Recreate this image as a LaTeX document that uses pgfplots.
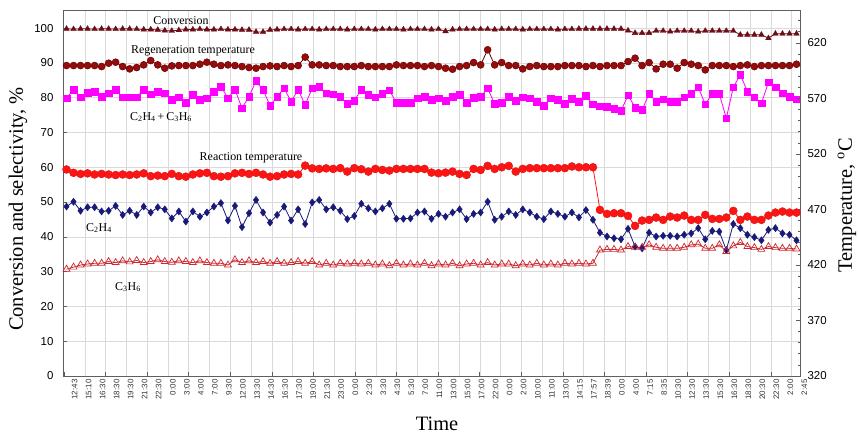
\documentclass[border=0pt]{standalone}
\usepackage{fontspec}
\setmainfont{Liberation Serif}
\setsansfont{Liberation Sans}
\usepackage{pgfplots}
\pgfplotsset{compat=1.18}
\usepackage{pgfplotstable}

\definecolor{convc}{RGB}{110,12,24}
\definecolor{regenc}{RGB}{150,12,12}
\definecolor{regend}{RGB}{105,0,0}
\definecolor{pinkc}{RGB}{255,0,255}
\definecolor{reactc}{RGB}{255,20,20}
\definecolor{ethc}{RGB}{25,25,120}
\definecolor{propc}{RGB}{205,40,45}
\definecolor{gridc}{RGB}{218,218,218}
\definecolor{axc}{RGB}{95,95,95}

\pgfplotstableread{
i conv regen pink react ceth cprop
0 99.8 599.6 79.9 506.0 48.7 30.7
1 99.7 599.6 82.3 503.0 50.1 31.3
2 99.8 599.6 80.1 502.0 47.5 31.9
3 99.8 599.6 81.5 502.5 48.5 32.2
4 99.7 599.6 81.8 501.5 48.5 32.4
5 99.8 598.7 80.3 502.0 47.3 32.4
6 99.8 601.7 81.3 501.5 47.5 32.9
7 99.7 602.6 82.3 501.0 48.9 32.6
8 99.8 598.7 80.1 501.5 46.3 33.1
9 99.8 596.6 80.1 501.0 47.5 32.8
10 99.7 597.8 80.1 501.5 46.3 33.2
11 99.6 600.2 82.3 502.5 48.7 32.6
12 99.6 604.1 81.0 500.0 47.0 32.9
13 99.5 600.2 81.8 500.5 48.5 33.4
14 99.3 597.2 81.3 500.0 47.9 32.9
15 99.2 599.3 79.4 502.0 45.3 32.7
16 99.4 599.6 80.1 500.0 47.3 33.1
17 99.6 599.6 78.6 499.5 44.4 32.9
18 99.6 599.6 80.8 501.5 47.3 32.6
19 99.7 600.8 79.4 502.5 45.8 33.1
20 99.6 602.6 79.9 503.0 47.0 32.6
21 99.6 600.8 81.8 500.0 48.7 32.4
22 99.7 599.6 83.2 499.5 49.7 32.4
23 99.6 600.2 79.9 500.0 44.7 31.9
24 99.6 599.6 82.3 502.5 48.9 33.4
25 99.5 598.7 77.0 503.0 42.8 32.6
26 99.5 597.8 80.3 502.0 46.8 33.1
27 98.9 597.2 84.8 503.0 50.6 32.6
28 98.9 598.7 82.3 501.5 47.0 32.9
29 99.5 599.3 77.7 499.5 44.1 32.4
30 99.6 598.7 80.3 500.0 46.3 32.9
31 99.7 599.6 82.7 501.5 48.7 32.4
32 99.7 598.7 78.9 502.0 44.7 32.6
33 99.6 599.6 82.3 501.5 47.9 32.9
34 99.7 607.2 77.9 509.5 43.7 32.4
35 99.7 600.2 82.7 507.0 49.9 32.9
36 99.6 600.2 83.2 506.5 50.6 31.9
37 99.7 599.6 81.3 507.0 47.9 32.4
38 99.7 599.6 81.0 506.5 48.5 31.9
39 99.7 598.7 80.3 507.2 47.5 32.4
40 99.6 598.7 78.2 504.1 45.1 32.2
41 99.7 598.7 79.2 507.2 46.0 32.4
42 99.7 599.6 82.3 506.2 49.5 32.2
43 99.7 598.7 80.8 504.1 48.2 32.4
44 99.6 598.7 80.1 506.5 47.3 31.9
45 99.7 598.7 81.1 505.6 48.2 32.2
46 99.7 598.7 82.1 505.0 49.5 31.7
47 99.7 600.2 78.6 506.5 45.2 32.4
48 99.6 599.6 78.6 506.5 45.2 31.9
49 99.7 599.6 78.6 506.5 45.3 32.2
50 99.7 599.6 79.9 506.5 47.0 31.9
51 99.7 598.7 80.3 506.5 47.3 32.4
52 99.6 599.6 79.4 503.2 45.2 31.7
53 99.7 598.7 79.9 502.6 46.6 32.2
54 99.1 597.2 79.2 503.2 45.8 31.9
55 99.6 596.3 80.3 504.1 47.0 32.4
56 99.7 598.7 80.8 502.0 47.9 31.7
57 99.7 599.6 78.6 501.1 45.1 32.2
58 99.7 602.3 80.0 506.5 46.6 32.4
59 99.7 600.2 80.3 505.6 47.0 31.9
60 99.7 613.8 82.7 509.2 50.1 32.6
61 99.6 600.2 78.2 506.5 44.9 31.9
62 99.7 602.3 78.6 508.0 45.8 32.2
63 99.7 599.6 80.3 509.2 47.3 32.2
64 99.7 599.6 79.2 504.1 46.3 31.7
65 99.6 596.6 80.1 506.5 47.9 32.2
66 99.7 598.7 79.9 507.2 47.0 31.9
67 99.7 599.6 78.9 507.2 45.8 32.4
68 99.7 598.7 77.7 507.2 45.1 31.9
69 99.7 598.7 79.9 507.2 47.3 32.2
70 99.6 598.7 79.4 507.2 46.6 31.9
71 99.7 599.6 78.2 507.2 45.8 32.4
72 99.7 599.6 79.7 508.7 47.0 32.2
73 99.8 599.6 78.9 508.0 45.6 32.4
74 99.8 598.7 80.5 508.0 47.7 32.2
75 99.8 599.6 78.1 508.0 44.9 32.4
76 99.8 598.7 77.6 469.6 41.2 36.2
77 99.8 599.6 77.4 466.0 40.1 36.4
78 99.8 599.6 76.8 466.6 39.6 36.4
79 99.8 599.6 76.2 466.6 39.3 36.2
80 99.3 603.2 80.7 464.2 42.3 37.2
81 98.6 606.2 77.2 455.2 37.2 37.0
82 98.6 599.6 76.5 460.0 36.7 37.0
83 98.6 602.3 81.1 460.6 41.2 37.7
84 99.2 596.6 78.9 462.7 40.1 37.0
85 99.2 600.8 79.6 460.6 40.3 36.7
86 99.0 600.8 78.9 463.6 40.3 36.7
87 99.2 597.2 78.9 462.7 40.1 36.7
88 99.2 602.3 80.1 464.5 40.6 37.0
89 99.2 600.8 81.1 460.6 41.0 37.7
90 99.0 599.6 83.0 460.6 42.5 37.9
91 99.2 595.7 78.1 465.1 39.3 36.7
92 99.2 599.6 81.1 461.5 41.7 36.7
93 99.2 599.6 81.1 461.5 41.5 37.7
94 99.2 599.6 74.1 462.7 36.2 35.8
95 99.2 598.7 83.0 468.7 43.7 37.4
96 98.1 599.6 86.6 460.6 42.5 38.4
97 98.1 600.2 81.8 463.6 40.6 37.2
98 98.1 598.7 80.1 460.6 39.9 36.9
99 98.1 599.6 78.4 460.6 39.0 36.4
100 97.1 599.6 84.4 464.5 42.0 37.2
101 98.4 599.6 83.0 467.2 42.5 36.9
102 98.4 599.6 81.3 468.1 41.0 36.7
103 98.4 599.6 80.3 467.2 40.6 36.7
104 98.4 600.8 79.6 467.2 39.0 36.5
}\data

\begin{document}
\begin{tikzpicture}
\useasboundingbox (0bp,0bp) rectangle (858bp,-435bp);
\begin{axis}[
  at={(63bp,-376bp)}, anchor=south west, scale only axis,
  width=737bp, height=365.3bp,
  xmin=-0.5, xmax=104.5, ymin=0, ymax=105,
  axis line style={draw=axc, line width=0.7bp},
  xtick={0,2,...,104},
  xticklabels={12:43,15:10,16:30,18:30,19:30,21:30,22:30,0:00,3:00,4:00,7:00,9:30,12:00,13:30,14:30,16:30,17:30,19:00,21:30,23:00,0:00,2:30,3:30,4:30,5:30,7:00,11:00,13:00,15:00,17:00,22:00,0:00,2:00,10:00,11:00,13:00,14:15,17:57,18:39,0:00,4:00,7:15,8:35,10:30,12:30,13:30,15:30,16:30,18:30,20:30,22:30,2:00,2:45},
  xtick style={draw=none},
  minor xtick={2.6,5.562,...,103.4},
  xminorgrids=true, xmajorgrids=false,
  ytick={0,10,...,100}, ytick pos=left,
  ymajorgrids=true,
  grid style={draw=gridc, line width=0.5bp},
  minor grid style={draw=gridc, line width=0.5bp},
  major tick length=4bp,
  ytick style={draw=axc, line width=0.6bp},
  /pgf/number format/assume math mode=true,
  xticklabel style={rotate=90, anchor=east, font=\fontsize{8}{9}\sffamily, yshift=-8bp, text=black!80},
  yticklabel style={font=\fontsize{11.5}{13}\sffamily, xshift=-6bp},
  every axis plot/.append style={line width=0.8bp},
]
\addplot[color=convc, mark=triangle*, mark size=3.2bp, mark options={fill=convc, line width=0.4bp}] table[x=i,y=conv]{\data};
\addplot[color=pinkc, mark=square*, mark size=3.3bp, mark options={fill=pinkc, line width=0.4bp}] table[x=i,y=pink]{\data};
\addplot[color=ethc, mark=diamond*, mark size=3.6bp, mark options={fill=ethc, line width=0.4bp}] table[x=i,y=ceth]{\data};
\addplot[color=propc, mark=triangle, mark size=4bp, mark options={fill=white, line width=0.7bp}] table[x=i,y=cprop]{\data};
\end{axis}
\begin{axis}[
  at={(63bp,-376bp)}, anchor=south west, scale only axis,
  width=737bp, height=365.3bp,
  xmin=-0.5, xmax=104.5, ymin=320, ymax=649,
  axis y line*=right, axis x line*=bottom,
  axis line style={draw=axc, line width=0.7bp},
  xtick={-0.36,5.564,...,101}, xticklabels={},
  ytick={320,370,...,620},
  minor ytick={330,340,...,640},
  major tick length=4bp, minor tick length=2.5bp,
  tick style={draw=axc, line width=0.6bp},
  /pgf/number format/assume math mode=true,
  yticklabel style={font=\fontsize{11.5}{13}\sffamily, xshift=4bp},
  every axis plot/.append style={line width=0.8bp},
]
\addplot[color=regend, mark=*, mark size=3.5bp, mark options={fill=regenc, draw=regend, line width=0.5bp}] table[x=i,y=regen]{\data};
\addplot[color=reactc, mark=*, mark size=4bp, mark options={fill=reactc, draw=reactc!85!black, line width=0.4bp}] table[x=i,y=react]{\data};
\end{axis}
\node[font=\fontsize{12}{14}\selectfont] at (181bp,-21bp) {Conversion};
\node[font=\fontsize{12}{14}\selectfont] at (193bp,-51bp) {Regeneration temperature};
\node[font=\fontsize{12}{14}\selectfont] at (161bp,-117bp) {C\textsubscript{2}H\textsubscript{4}\,+\,C\textsubscript{3}H\textsubscript{6}};
\node[font=\fontsize{12}{14}\selectfont] at (251bp,-158bp) {Reaction temperature};
\node[font=\fontsize{12}{14}\selectfont] at (99bp,-228bp) {C\textsubscript{2}H\textsubscript{4}};
\node[font=\fontsize{12}{14}\selectfont] at (128bp,-287bp) {C\textsubscript{3}H\textsubscript{6}};
\node[rotate=90, font=\fontsize{20.5}{23}\selectfont] at (18bp,-209bp) {Conversion and selectivity, \%};
\node[rotate=90, font=\fontsize{20.5}{23}\selectfont] at (847bp,-205bp) {Temperature, \textsuperscript{o}C};
\node[font=\fontsize{20.5}{23}\selectfont] at (437bp,-424bp) {Time};
\end{tikzpicture}
\end{document}
